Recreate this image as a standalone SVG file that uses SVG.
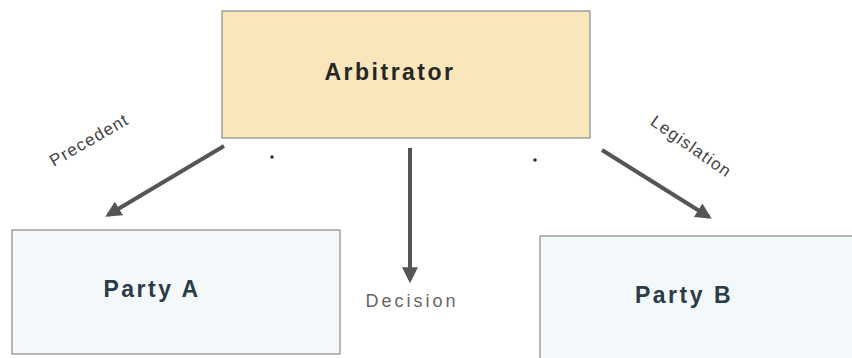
<svg xmlns="http://www.w3.org/2000/svg" width="852" height="358" viewBox="0 0 852 358">
<style>
.box{stroke:#8a8a8a;stroke-width:1.2}
.party{fill:#f3f8fb}
.t{font-family:"Liberation Sans",Arial,sans-serif;font-weight:bold;font-size:23px;letter-spacing:2.5px}
.lbl{font-family:"Liberation Sans",Arial,sans-serif;fill:#444;font-size:17px;letter-spacing:1.2px}
.dec{font-family:"Liberation Sans",Arial,sans-serif;fill:#666;font-size:18px;letter-spacing:3px}
.c{stroke:#555;stroke-width:4;fill:none}
</style>
<defs>
<marker id="ah" viewBox="0 0 10 10" refX="8" refY="5" markerWidth="4" markerHeight="4" orient="auto" markerUnits="strokeWidth">
<path d="M0,0 L10,5 L0,10 z" fill="#555"/>
</marker>
</defs>
<rect width="852" height="358" fill="#fff"/>
<g id="arbitrator">
<rect class="box" x="222" y="11" width="368" height="127" fill="#f9e6bb"/>
<text class="t" x="390" y="80" text-anchor="middle" fill="#262626">Arbitrator</text>
</g>
<g id="partyA">
<rect class="box party" x="12" y="230" width="328" height="124"/>
<text class="t" x="152" y="297" text-anchor="middle" fill="#2b3c47">Party A</text>
</g>
<g id="partyB">
<rect class="box party" x="540" y="236" width="320" height="130"/>
<text class="t" x="684" y="303" text-anchor="middle" fill="#2b3c47">Party B</text>
</g>
<g id="connectors">
<line class="c" x1="224" y1="146" x2="108" y2="215" marker-end="url(#ah)"/>
<line class="c" x1="410" y1="148" x2="410" y2="280" marker-end="url(#ah)"/>
<line class="c" x1="602" y1="150" x2="709" y2="217" marker-end="url(#ah)"/>
<circle cx="272" cy="157" r="1.8" fill="#333"/>
<circle cx="535" cy="160" r="1.8" fill="#333"/>
<text class="lbl" transform="translate(92,145) rotate(-30)" text-anchor="middle">Precedent</text>
<text class="lbl" transform="translate(688,151) rotate(35)" text-anchor="middle">Legislation</text>
<text class="dec" x="412" y="307" text-anchor="middle">Decision</text>
</g>
</svg>
